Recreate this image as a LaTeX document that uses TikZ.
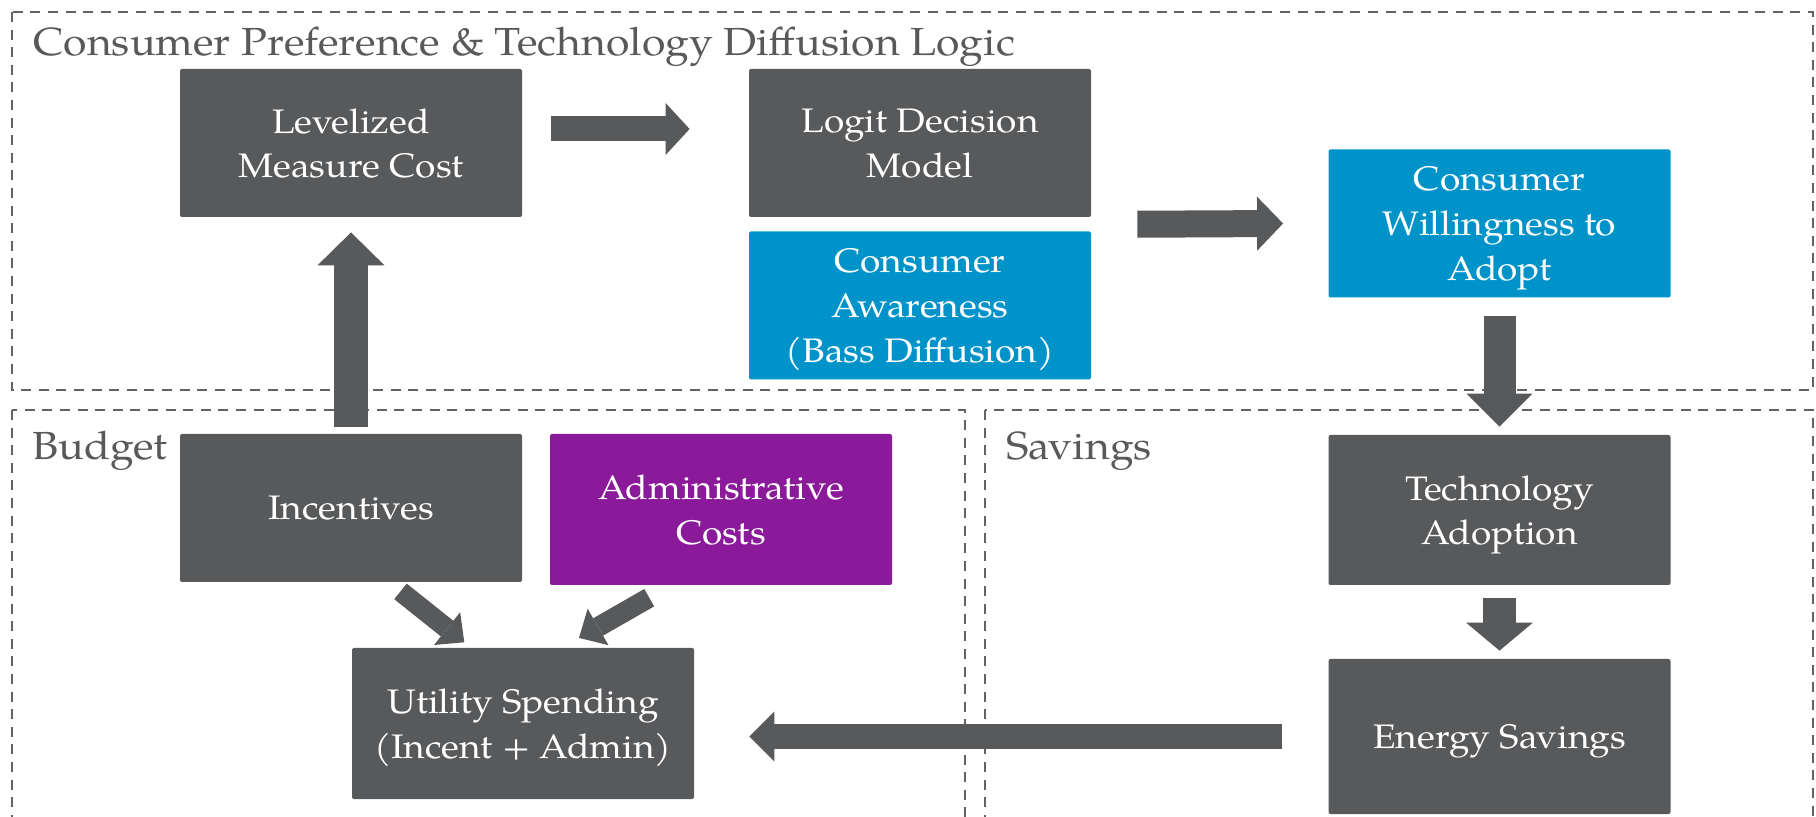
\documentclass[tikz,border=0pt]{standalone}
\usepackage{fontspec}
\setmainfont{TeX Gyre Pagella}[FakeStretch=1.09]
\usetikzlibrary{arrows.meta,calc}

\definecolor{dgrey}{HTML}{58595B}
\definecolor{cblue}{HTML}{0093C9}
\definecolor{cpurple}{HTML}{8B1A9B}
\definecolor{lgrey}{HTML}{626366}

\tikzset{
  box/.style={fill=dgrey, text=white, align=center, inner sep=0pt, minimum width=171pt,
    rounded corners=1pt, text depth=0pt, font=\fontsize{17}{22.3}\selectfont},
  area/.style={draw=lgrey, line width=1.45pt, dash pattern=on 5pt off 3.8pt},
  areatitle/.style={anchor=base west, inner sep=0pt, text=dgrey, font=\fontsize{19.6}{24}\selectfont},
  fat/.style n args={3}{draw=dgrey, line width=#1, -{Triangle[width=#2, length=#3, line width=0pt]}}
}

\begin{document}
\begin{tikzpicture}[x=.5pt, y=-.5pt]
	\useasboundingbox (0,0) rectangle (1816,817);
	\clip (0,0) rectangle (1816,817);
	% the three dashed areas
	\draw[area] (12,12) rectangle (1813,390);
	\draw[area] (12,410) rectangle (965,850);
	\draw[area] (985,410) rectangle (1813,850);
	\node[areatitle] (ttop) at (33,56) {Consumer Preference \& Technology Diffusion Logic};
	\node[areatitle] (tbud) at (32,460) {Budget};
	\node[areatitle] (tsav) at (1006,460) {Savings};
	% boxes: name/colour/x/y/height/text
	\foreach \n/\c/\x/\y/\h/\t in {lmc/dgrey/351/143/74/{Levelized\\Measure Cost},
		logit/dgrey/920/143/74/{Logit Decision\\Model},
		aware/cblue/920/305.5/74/{Consumer\\Awareness\\(Bass Diffusion)},
		will/cblue/1499.5/223.5/74/{Consumer\\Willingness to\\Adopt},
		tech/dgrey/1499.5/510/75/{Technology\\Adoption},
		energy/dgrey/1499.5/736.5/77.5/{Energy Savings},
		incent/dgrey/351/508/74/{Incentives},
		admin/cpurple/721/509.5/75.5/{Administrative\\Costs},
		util/dgrey/523/723.5/75.5/{Utility Spending\\(Incent + Admin)}}
	\node[box, fill=\c, minimum height=\h pt] (\n) at (\x,\y) {\t};
	% block arrows
	\draw[fat={12.5pt}{26pt}{12pt}] ([shift={(29,-14)}]lmc.east) -- ([shift={(-59,-14)}]logit.west);
	\draw[fat={13.5pt}{27pt}{13pt}] ($(logit.south east)!.5!(aware.north east)+(46,0)$) -- ([shift={(-45,0)}]will.west);
	\draw[fat={16pt}{33pt}{16.5pt}] ([shift={(0,18)}]will.south) -- ([shift={(0,-8)}]tech.north);
	\draw[fat={16.5pt}{33.5pt}{14pt}] ([shift={(0,13)}]tech.south) -- ([shift={(0,-8)}]energy.north);
	\draw[fat={12.5pt}{25pt}{12.5pt}] ([shift={(-46,0)}]energy.west) -- ([shift={(55,13)}]util.east);
	\draw[fat={17pt}{33.5pt}{16.5pt}] ([shift={(0,-7)}]incent.north) -- ([shift={(0,15)}]lmc.south);
	\draw[fat={10pt}{21pt}{11pt}] ([shift={(49.5,9)}]incent.south) -- ([shift={(-58.7,-5.3)}]util.north);
	\draw[fat={10pt}{21pt}{11pt}] ([shift={(-71.8,12.3)}]admin.south) -- ([shift={(56,-9.7)}]util.north);
\end{tikzpicture}
\end{document}
